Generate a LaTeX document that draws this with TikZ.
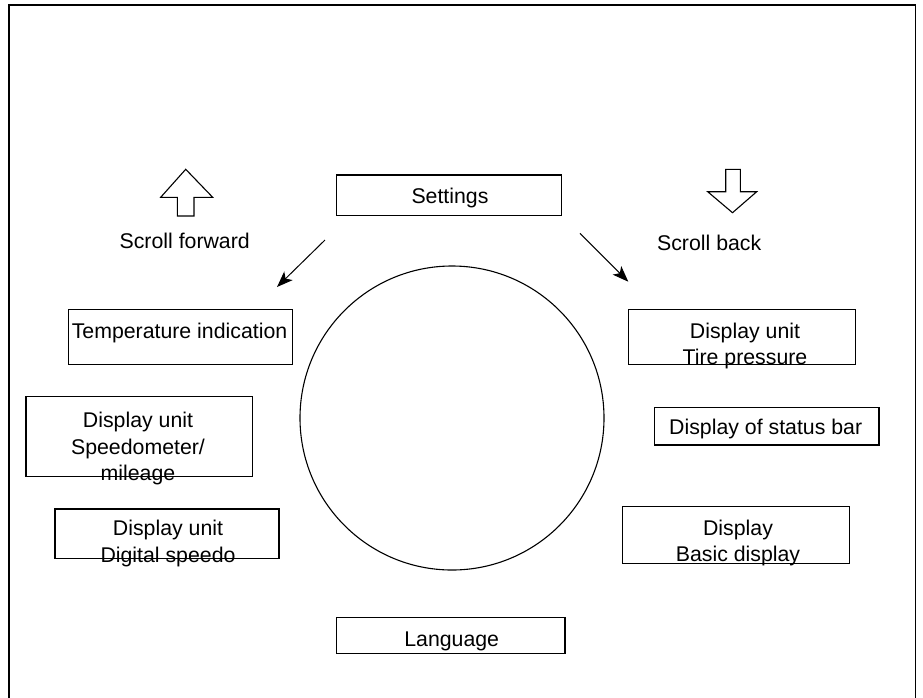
\documentclass[tikz,border=0pt]{standalone}
\usepackage{fontspec}
\setmainfont{Liberation Sans}
\usetikzlibrary{arrows.meta}
\begin{document}
\begin{tikzpicture}[x=1pt,y=-1pt,
  boxstyle/.style={draw, line width=1.2pt, inner sep=0pt, rectangle},
  label/.style={inner sep=0pt, align=center, font=\fontsize{21.3}{26.5}\selectfont},
  pointer/.style={line width=1pt, -{Stealth[length=16pt,width=12pt,inset=4pt]}},
  hollow/.style={draw, line width=1.1pt, fill=white, line join=miter}
]
\useasboundingbox (0,0) rectangle (923,697);
% frame
\draw[line width=1.2pt] (9,700) -- (9,5) -- (915.5,5) -- (915.5,700);

% boxes
\node[boxstyle, minimum width=225pt, minimum height=40.7pt] (settings) at (449.2,195.35) {};
\node[boxstyle, minimum width=224.4pt, minimum height=55pt] (temp) at (180.5,336.8) {};
\node[boxstyle, minimum width=226.3pt, minimum height=80pt] (speedo) at (139.15,436.7) {};
\node[boxstyle, minimum width=224pt, minimum height=49.3pt] (digital) at (167,533.65) {};
\node[boxstyle, minimum width=227.4pt, minimum height=55pt] (tire) at (742,336.8) {};
\node[boxstyle, minimum width=224.7pt, minimum height=37.3pt] (status) at (766.65,426.35) {};
\node[boxstyle, minimum width=226.6pt, minimum height=56.6pt] (basic) at (736,535) {};
\node[boxstyle, minimum width=228.3pt, minimum height=35.6pt] (language) at (450.85,635.5) {};

% texts
\node[label] (tsettings) at (450,198) {Settings};
\node[label] (ttemp) at (179.5,333) {Temperature indication};
\node[label] (tspeedo) at (138,448.5) {Display unit\\Speedometer/\\mileage};
\node[label] (tdigital) at (168,543.3) {Display unit\\Digital speedo};
\node[label] (ttire) at (745,346) {Display unit\\Tire pressure};
\node[label] (tstatus) at (765.7,429.3) {Display of status bar};
\node[label] (tbasic) at (738,543) {Display\\Basic display};
\node[label] (tlanguage) at (451.7,641) {Language};
\node[label] (tfwd) at (184.7,241) {Scroll forward};
\node[label] (tback) at (709.2,242.7) {Scroll back};

% circle
\node[draw, circle, line width=1.1pt, minimum size=304pt, inner sep=0pt] (wheel) at (452,418) {};

% hollow arrows
\draw[hollow] (185.7,169.3) -- (212.7,197.3) -- (194,197.3) -- (194,216) -- (177.3,216) -- (177.3,197.3) -- (160.7,197.3) -- cycle;
\draw[hollow] (732.5,212.7) -- (756.7,191.7) -- (740.3,191.7) -- (740.3,169.3) -- (725.7,169.3) -- (725.7,191.7) -- (707.7,191.7) -- cycle;

% pointers
\coordinate (l1) at (325,240);
\coordinate (l2) at (277,287);
\coordinate (r1) at (580,233.3);
\coordinate (r2) at (628.3,281.7);
\draw[pointer] (l1) -- (l2);
\draw[pointer] (r1) -- (r2);
\end{tikzpicture}
\end{document}
